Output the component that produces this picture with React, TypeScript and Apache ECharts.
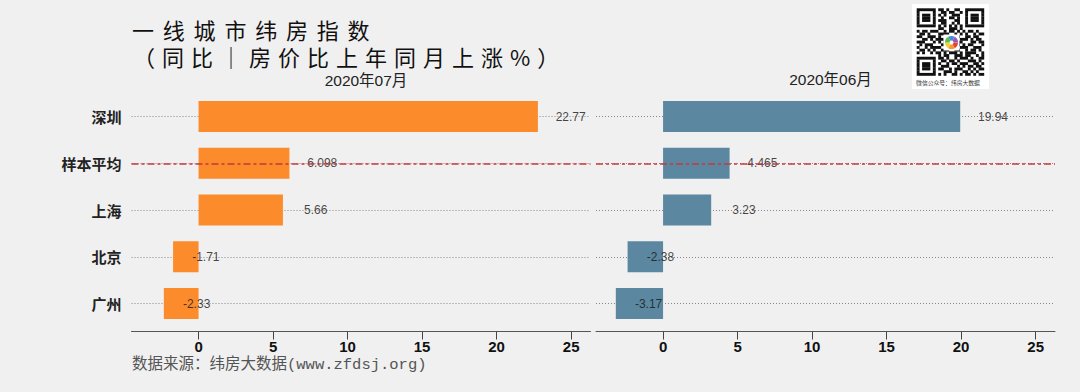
import React, { useEffect, useRef } from "react";
import * as echarts from "echarts";

const categories = ["深圳", "样本平均", "上海", "北京", "广州"];
const julValues = [22.77, 6.098, 5.66, -1.71, -2.33];
const junValues = [19.94, 4.465, 3.23, -2.38, -3.17];
const tickValues = [0, 5, 10, 15, 20, 25];
const panelTitles = ["2020年07月", "2020年06月"];
const averageCategory = "样本平均";
const titleLine1 = "一线城市纬房指数";
const titleLine2 = "（同比｜房价比上年同月上涨%）";
const sourceText = "数据来源：纬房大数据(www.zfdsj.org)";
const qrCaption = "微信公众号：纬房大数据";
const labelShift = 2.2;

const qrRows = [
  "1111111" + "0" + "110100110" + "0" + "1111111",
  "1000001" + "0" + "011011001" + "0" + "1000001",
  "1011101" + "0" + "101001110" + "0" + "1011101",
  "1011101" + "0" + "010011010" + "0" + "1011101",
  "1011101" + "0" + "111000110" + "0" + "1011101",
  "1000001" + "0" + "011001010" + "0" + "1000001",
  "1111111" + "0" + "101010101" + "0" + "1111111",
  "00000000" + "110011101" + "00000000",
  "1011011100101101010110100",
  "0110100011110010101001011",
  "1100111010010111001101100",
  "0011010111001000111010110",
  "1110001010110101100011011",
  "0101110001101011010110001",
  "1001011110010100111001110",
  "0110101001110011001011010",
  "1010010110101110101111001",
  "00000000" + "10110011101100101",
  "1111111" + "0" + "11010010111010011",
  "1000001" + "0" + "01101101000111010",
  "1011101" + "0" + "10010110111001101",
  "1011101" + "0" + "01110001010110110",
  "1011101" + "0" + "11001011100101011",
  "1000001" + "0" + "00111010011010100",
  "1111111" + "0" + "10100110101101011",
];

const ORANGE = "#fb8b2b";
const BLUE = "#5b88a0";
const RED = "#c8383f";
const SANS = "'Liberation Sans', Arial, 'Noto Sans CJK SC', sans-serif";
const CJK = "'Noto Sans CJK SC', 'Liberation Sans', sans-serif";

function buildQr() {
  const x0 = 916.7;
  const y0 = 8.3;
  const m = 67.3 / 25;
  const children: any[] = [];
  children.push({
    type: "rect",
    shape: { x: 912, y: 4, width: 77, height: 85 },
    style: { fill: "#ffffff" },
  });
  qrRows.forEach((row, r) => {
    let c = 0;
    while (c < row.length) {
      if (row[c] === "1") {
        let e = c;
        while (e < row.length && row[e] === "1") e++;
        children.push({
          type: "rect",
          shape: { x: x0 + c * m, y: y0 + r * m, width: (e - c) * m + 0.2, height: m + 0.2 },
          style: { fill: "#111111" },
        });
        c = e;
      } else c++;
    }
  });
  const cx = 951.5;
  const cy = 42.5;
  children.push({ type: "rect", shape: { x: cx - 8, y: cy - 8, width: 16, height: 16 }, style: { fill: "#ffffff" } });
  const logoColors = ["#e8413c", "#f39c2b", "#f4d03f", "#5bbf4a", "#3d8fd8", "#9b59b6"];
  logoColors.forEach((col, i) => {
    children.push({
      type: "sector",
      shape: {
        cx,
        cy,
        r: 6.5,
        r0: 2,
        startAngle: (i * Math.PI) / 3,
        endAngle: ((i + 1) * Math.PI) / 3,
      },
      style: { fill: col },
    });
  });
  children.push({
    type: "text",
    x: 948,
    y: 82,
    style: {
      text: qrCaption,
      fontSize: 5.8,
      fontFamily: CJK,
      fill: "#333",
      align: "center",
      verticalAlign: "middle",
    },
  });
  return { type: "group", children };
}

function panel(idx: number, values: number[], color: string) {
  return [
    {
      type: "bar",
      xAxisIndex: idx,
      yAxisIndex: idx,
      data: values,
      barWidth: 31,
      clip: false,
      z: 2,
      itemStyle: { color },
      markLine: {
        silent: true,
        symbol: ["none", "none"],
        label: { show: false },
        lineStyle: { color: RED, type: [7, 3, 3, 3], width: 1.5 },
        data: [{ yAxis: averageCategory }],
      },
    },
    {
      type: "scatter",
      xAxisIndex: idx,
      yAxisIndex: idx,
      symbolSize: 1,
      z: 4,
      itemStyle: { color: "transparent" },
      data: values.map((v, i) => [v + labelShift, categories[i], v]),
      label: {
        show: true,
        position: "inside",
        formatter: (p: any) => String(p.value[2]),
        color: "#151515",
        fontSize: 12,
        fontFamily: SANS,
      },
    },
  ];
}

export default function App() {
  const ref = useRef<HTMLDivElement>(null);
  useEffect(() => {
    document.body.style.margin = "0";
    const chart = echarts.init(ref.current!, null, { renderer: "svg" });
    const grids = [
      { left: 131.5, top: 116.5, width: 459, height: 187 },
      { left: 596, top: 116.5, width: 459, height: 187 },
    ];
    const xAxis = grids.map((_, i) => ({
      type: "value",
      gridIndex: i,
      min: -4.5,
      max: 26.3,
      offset: 28,
      axisLine: { show: true, lineStyle: { color: "#555", width: 1 } },
      axisTick: { show: true, length: 8, customValues: tickValues, lineStyle: { color: "#444" } },
      axisLabel: {
        show: true,
        customValues: tickValues,
        margin: 7,
        color: "#111",
        fontSize: 15,
        fontWeight: "bold",
        fontFamily: SANS,
      },
      splitLine: { show: false },
    }));
    const yAxis = grids.map((_, i) => ({
      type: "category",
      gridIndex: i,
      data: categories,
      inverse: true,
      boundaryGap: false,
      axisLine: { show: false },
      axisTick: { show: false },
      axisLabel: {
        show: i === 0,
        margin: 10,
        color: "#222",
        fontSize: 15,
        fontWeight: "bold",
        fontFamily: CJK,
      },
      splitLine: { show: true, lineStyle: { color: "#888", type: [1, 2], width: 1 } },
    }));
    chart.setOption({
      animation: false,
      backgroundColor: "#f0f0f0",
      grid: grids,
      xAxis,
      yAxis,
      title: [
        {
          text: panelTitles[0],
          left: 361,
          top: 68,
          textAlign: "center",
          textStyle: { fontSize: 15.5, fontWeight: "normal", color: "#222", fontFamily: SANS },
        },
        {
          text: panelTitles[1],
          left: 825.5,
          top: 67,
          textAlign: "center",
          textStyle: { fontSize: 15.5, fontWeight: "normal", color: "#222", fontFamily: SANS },
        },
      ],
      graphic: [
        {
          type: "text",
          x: 132,
          y: 29,
          style: {
            text: titleLine1,
            fontSize: 22,
            fontFamily: "'Noto Sans CJK SC', zfTitleA",
            fill: "#111",
            verticalAlign: "middle",
          },
        },
        {
          type: "text",
          x: 133,
          y: 56,
          style: {
            text: titleLine2,
            fontSize: 22,
            fontFamily: "'Noto Sans CJK SC', zfTitleB",
            fill: "#111",
            verticalAlign: "middle",
          },
        },
        {
          type: "text",
          x: 132,
          y: 365,
          style: {
            text: sourceText,
            fontSize: 15.5,
            fontFamily: "'Liberation Mono', 'Noto Sans CJK SC', monospace",
            fill: "#555",
            verticalAlign: "middle",
          },
        },
        buildQr(),
      ],
      series: [...panel(0, julValues, ORANGE), ...panel(1, junValues, BLUE)],
    });
    return () => chart.dispose();
  }, []);
  return (
    <>
      <style>{`
        text[style*="zfTitleA"], text[font-family*="zfTitleA"] { letter-spacing: 8.8px; }
        text[style*="zfTitleB"], text[font-family*="zfTitleB"] { letter-spacing: 7px; }
      `}</style>
      <div
        ref={ref}
        style={{ position: "fixed", left: 0, top: 0, width: 1080, height: 392, background: "#f0f0f0" }}
      />
    </>
  );
}
